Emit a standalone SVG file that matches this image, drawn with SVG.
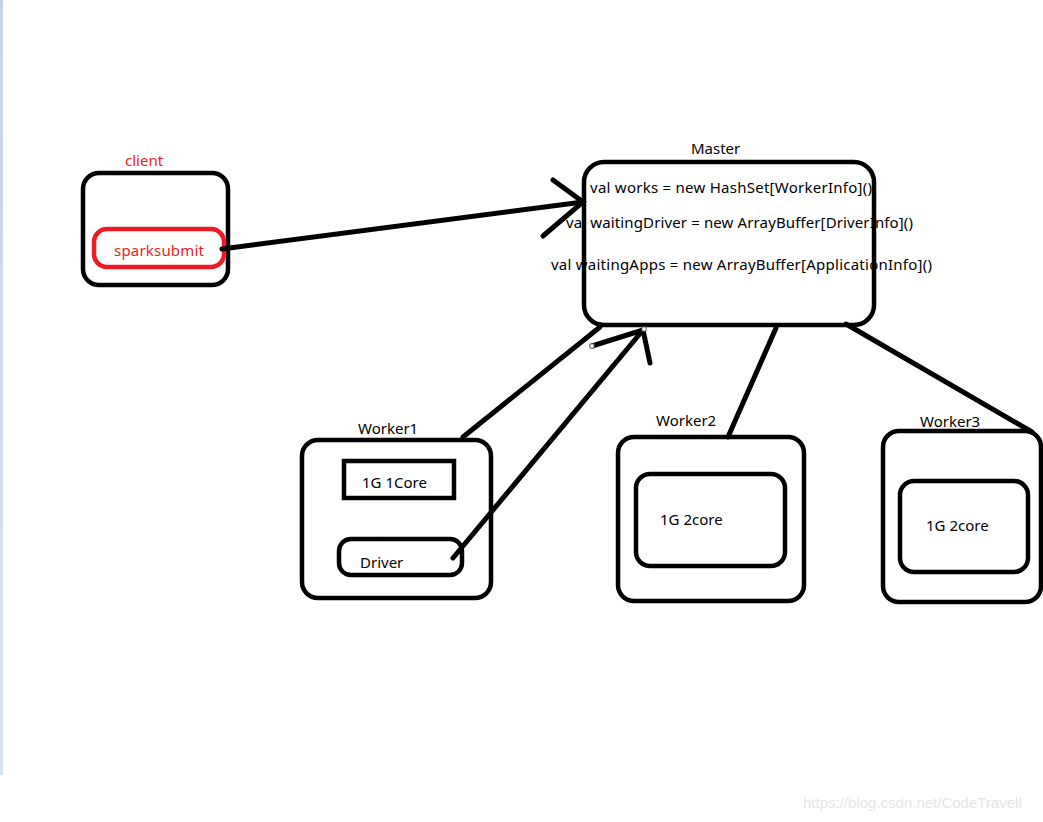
<svg xmlns="http://www.w3.org/2000/svg" width="1043" height="822" viewBox="0 0 1043 822">
<defs>
<linearGradient id="strip" x1="0" y1="0" x2="0" y2="1"><stop offset="0" stop-color="#c6d2e6"/><stop offset="1" stop-color="#dbe5f2"/></linearGradient>
</defs>
<style>
.box{fill:none;stroke:#000;stroke-width:4.5}
.red{fill:none;stroke:#ed1c24;stroke-width:4.5}
.ln{fill:none;stroke:#000;stroke-width:5;stroke-linecap:round}
text{font-family:"Noto Sans","Open Sans","Liberation Sans",sans-serif;font-size:15px;fill:#000}
.rt{fill:#ed1c24}
.wm{fill:#e6e6e6;font-family:"Liberation Sans",Arial,sans-serif;font-size:15px}
.hd{fill:#fff;stroke:#666;stroke-width:1}
</style>
<rect width="1043" height="822" fill="#fff"/>
<rect x="0" y="0" width="3" height="775" fill="url(#strip)"/>
<g id="client">
<text class="rt" x="125" y="166">client</text>
<rect class="box" x="83" y="173" width="145" height="112" rx="16"/>
</g>
<g id="sparksubmit">
<rect class="red" x="94" y="229" width="130" height="38" rx="13"/>
<text class="rt" x="114" y="256" textLength="90">sparksubmit</text>
</g>
<g id="master">
<text x="691" y="154">Master</text>
<text x="590" y="193" textLength="282">val works = new HashSet[WorkerInfo]()</text>
<text x="566" y="228" textLength="347">val waitingDriver = new ArrayBuffer[DriverInfo]()</text>
<text x="551" y="270" textLength="381">val waitingApps = new ArrayBuffer[ApplicationInfo]()</text>
<rect class="box" x="584" y="162" width="290" height="163" rx="20" stroke-width="5"/>
</g>
<g id="worker1">
<text x="358" y="434">Worker1</text>
<rect class="box" x="302" y="440" width="189" height="158" rx="16"/>
<rect class="box" x="344" y="461" width="110" height="37"/>
<text x="362" y="488">1G 1Core</text>
<rect class="box" x="339" y="539" width="123" height="36" rx="12"/>
<text x="360" y="568">Driver</text>
</g>
<g id="worker2">
<text x="656" y="426">Worker2</text>
<rect class="box" x="618" y="437" width="186" height="164" rx="16"/>
<rect class="box" x="636" y="474" width="149" height="92" rx="14"/>
<text x="660" y="525">1G 2core</text>
</g>
<g id="worker3">
<text x="920" y="427">Worker3</text>
<rect class="box" x="883" y="431" width="158" height="171" rx="16"/>
<rect class="box" x="900" y="481" width="128" height="91" rx="14"/>
<text x="926" y="531">1G 2core</text>
</g>
<g id="connectors">
<line class="ln" x1="222" y1="249" x2="583" y2="202"/>
<polyline class="ln" points="553,180 583,202 543,236"/>
<line class="ln" x1="463" y1="437" x2="600" y2="327"/>
<line class="ln" x1="453" y1="558" x2="643" y2="330"/>
<polyline class="ln" points="592,346 643,330 650,363"/>
<line class="ln" x1="728" y1="437" x2="776" y2="328"/>
<line class="ln" x1="846" y1="324" x2="1032" y2="432"/>
<rect class="hd" x="590" y="344" width="4" height="4"/>
<rect class="hd" x="642" y="327" width="4" height="4"/>
</g>
<text class="wm" x="803" y="808">https://blog.csdn.net/CodeTravell</text>
</svg>
